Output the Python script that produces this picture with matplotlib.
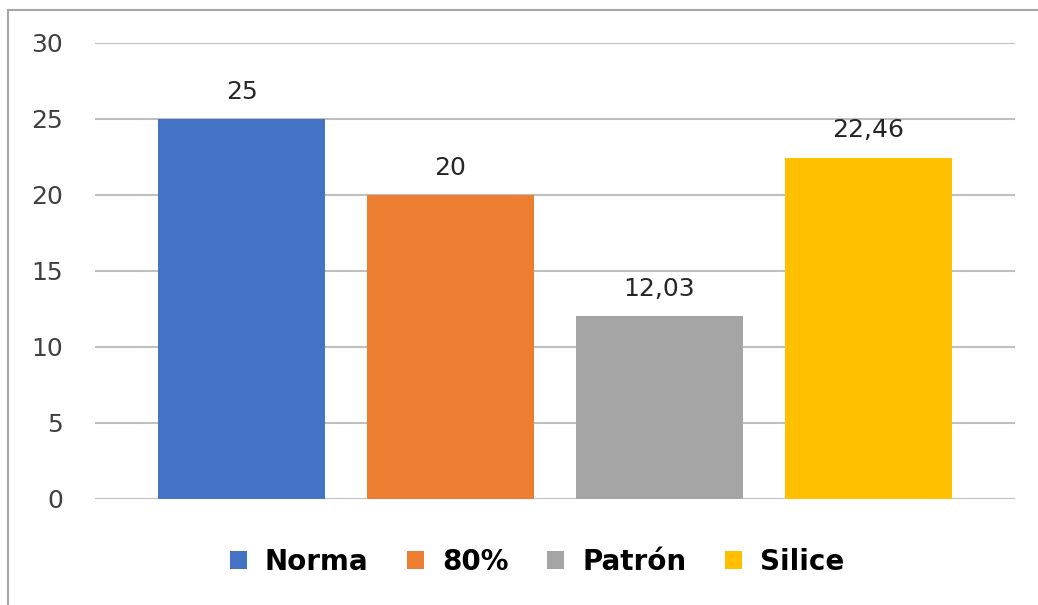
import matplotlib.pyplot as plt
from matplotlib.patches import Rectangle

series = ['Norma', '80%', 'Patrón', 'Silice']
values = [25, 20, 12.03, 22.46]
labels = ['25', '20', '12,03', '22,46']
colors = ['#4472C4', '#ED7D31', '#A5A5A5', '#FFC000']

plt.rcParams['font.family'] = ['DejaVu Sans']

fig = plt.figure(figsize=(10.38, 6.05), dpi=100)
ax = fig.add_axes([95 / 1038, 1 - 499 / 605, 920 / 1038, 456 / 605])

# outer chart border (cropped at right and bottom like the reference)
fig.patches.append(Rectangle((8 / 1038, -0.1), 1.2, 1 - 10 / 605 + 0.1,
                             transform=fig.transFigure, fill=False,
                             edgecolor='#a6a6a6', linewidth=1.5))

for i, (name, v, lab, c) in enumerate(zip(series, values, labels, colors)):
    ax.bar(i, v, width=0.8, color=c, label=name, zorder=3)
    ax.annotate(lab, (i, v), xytext=(0, 11), textcoords='offset points',
                ha='center', va='bottom', fontsize=18, color='#262626')

ax.set_xlim(-0.702, 3.702)
ax.set_ylim(0, 30)
ax.set_yticks(range(0, 31, 5))
ax.set_xticks([])
ax.yaxis.grid(True, color='#bfbfbf', linewidth=1.5, zorder=0)
ax.tick_params(axis='y', length=0, pad=23, labelsize=18, labelcolor='#404040')
for s in ax.spines.values():
    s.set_visible(False)

fig.legend(loc='center', bbox_to_anchor=(537 / 1038, 1 - 562 / 605), ncol=4,
           frameon=False, prop={'weight': 'bold', 'size': 20},
           handlelength=0.6, handleheight=0.6, handletextpad=0.65,
           columnspacing=1.4)

fig.savefig('out.png', dpi=100)
